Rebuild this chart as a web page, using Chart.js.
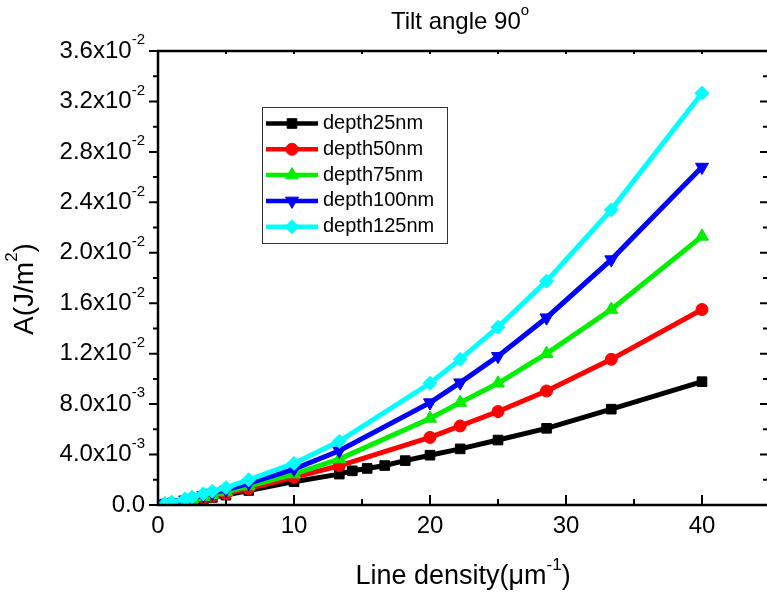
<!DOCTYPE html>
<html>
<head>
<meta charset="utf-8">
<script src="https://cdn.jsdelivr.net/npm/chart.js@4.4.1/dist/chart.umd.min.js"></script>
<style>
  html, body { margin: 0; padding: 0; background: #fff; overflow: hidden; }
  #wrap { width: 767px; height: 596px; overflow: hidden; }
</style>
</head>
<body>
<div id="wrap"><canvas id="myChart" width="772" height="596"></canvas></div>
<script>
// line density values (um^-1)
const xMain = [0.5, 1, 2, 2.5, 3.33, 4, 5, 6.67, 10, 13.33, 20, 22.22, 25, 28.57, 33.33, 40];
const xBlack = [0.5, 1, 2, 2.5, 3.33, 4, 5, 6.67, 10, 13.33, 14.29, 15.38, 16.67, 18.18, 20, 22.22, 25, 28.57, 33.33, 40];

// A (J/m^2)
const depth25 = [0.00006, 0.00013, 0.00027, 0.00035, 0.00048, 0.0006, 0.00078, 0.00115, 0.00185, 0.00245,
  0.00271, 0.0029, 0.00313, 0.00352, 0.00395, 0.00445, 0.00515, 0.00608, 0.0076, 0.00978];
const depth50 = [0.00007, 0.00015, 0.00032, 0.00041, 0.00057, 0.00071, 0.0009, 0.0013, 0.00219, 0.00311,
  0.00536, 0.00627, 0.00741, 0.00904, 0.01155, 0.0155];
const depth75 = [0.00008, 0.00017, 0.00036, 0.00046, 0.00065, 0.00081, 0.00103, 0.0015, 0.00245, 0.00364,
  0.00686, 0.00812, 0.00965, 0.012, 0.0155, 0.0213];
const depth100 = [0.00009, 0.00019, 0.00042, 0.00054, 0.00076, 0.00095, 0.0012, 0.00172, 0.00285, 0.0043,
  0.00812, 0.0097, 0.0118, 0.01485, 0.01946, 0.0268];
const depth125 = [0.0001, 0.00022, 0.00048, 0.00062, 0.00088, 0.0011, 0.00138, 0.002, 0.0033, 0.00505,
  0.00965, 0.01155, 0.0141, 0.01775, 0.0234, 0.03265];

const seriesNames = ['depth25nm', 'depth50nm', 'depth75nm', 'depth100nm', 'depth125nm'];
const xTickLabels = ['0', '10', '20', '30', '40'];
const yTickLabels = ['0.0', '4.0x10{-3}', '8.0x10{-3}', '1.2x10{-2}', '1.6x10{-2}', '2.0x10{-2}',
  '2.4x10{-2}', '2.8x10{-2}', '3.2x10{-2}', '3.6x10{-2}'];
const titleText = 'Tilt angle 90{o}';
const xTitle = 'Line density(\u03bcm{-1})';
const yTitle = 'A(J/m{2})';

const FONT = '"Liberation Sans", Arial, sans-serif';

// text with {superscript} parts
const richParts = (text) => {
  var parts = [];
  text.split(/(\{[^}]*\})/).forEach((p) => {
    if (!p) return;
    if (p[0] === '{') parts.push({ t: p.slice(1, -1), sup: true });
    else parts.push({ t: p, sup: false });
  });
  return parts;
};

const drawRich = (ctx, text, x, y, size, align) => {
  var parts = richParts(text);
  var supSize = Math.round(size * 0.62);
  var total = 0;
  parts.forEach((p) => {
    ctx.font = (p.sup ? supSize : size) + 'px ' + FONT;
    p.w = ctx.measureText(p.t).width;
    total += p.w;
  });
  var cx = align === 'right' ? x - total : align === 'center' ? x - total / 2 : x;
  ctx.textAlign = 'left';
  ctx.textBaseline = 'middle';
  parts.forEach((p) => {
    ctx.font = (p.sup ? supSize : size) + 'px ' + FONT;
    ctx.fillText(p.t, cx, p.sup ? y - size * 0.45 : y);
    cx += p.w;
  });
};

const colors = ['#000000', '#ff0000', '#00ee00', '#0000ff', '#00ffff'];
const styles = [
  { pointStyle: 'rect', rotation: 0, radius: 6.8 },
  { pointStyle: 'circle', rotation: 0, radius: 6 },
  { pointStyle: 'triangle', rotation: 0, radius: 7.5 },
  { pointStyle: 'triangle', rotation: 180, radius: 7.5 },
  { pointStyle: 'rectRot', rotation: 0, radius: 7 },
];

const makeSet = (i, xs, ys) => ({
  label: seriesNames[i],
  data: xs.map((v, k) => ({ x: v, y: ys[k] })),
  borderColor: colors[i],
  backgroundColor: colors[i],
  borderWidth: 5,
  pointStyle: styles[i].pointStyle,
  pointRotation: styles[i].rotation,
  pointRadius: styles[i].radius,
  pointBorderWidth: 1,
  pointBorderColor: colors[i],
  pointBackgroundColor: colors[i],
  tension: 0,
  order: 5 - i,
});

// frame, ticks, labels and legend
const framePlugin = {
  id: 'frame',
  afterDraw(chart) {
    const ctx = chart.ctx;
    const a = chart.chartArea;
    const xs = chart.scales.x;
    const ys = chart.scales.y;
    ctx.save();
    ctx.fillStyle = '#000';
    ctx.strokeStyle = '#000';
    ctx.lineWidth = 2.5;
    ctx.lineCap = 'butt';
    ctx.strokeRect(a.left, a.top, a.right - a.left, a.bottom - a.top);

    // x ticks: bottom inward, top small
    for (var i = 0; i <= 9; i++) {
      var v = i * 5;
      var px = xs.getPixelForValue(v);
      var major = i % 2 === 0;
      ctx.lineWidth = 2;
      ctx.beginPath();
      ctx.moveTo(px, a.bottom);
      ctx.lineTo(px, a.bottom - (major ? 10 : 6));
      ctx.moveTo(px, a.top);
      ctx.lineTo(px, a.top + 3);
      ctx.stroke();
      if (major) drawRich(ctx, xTickLabels[i / 2], px, a.bottom + 21, 24, 'center');
    }

    // y ticks: left outward, right inward
    for (var j = 0; j <= 18; j++) {
      var py = ys.getPixelForValue(j * 0.002);
      var maj = j % 2 === 0;
      ctx.lineWidth = 2;
      ctx.beginPath();
      ctx.moveTo(a.left, py);
      ctx.lineTo(a.left - (maj ? 9 : 5), py);
      ctx.moveTo(a.right, py);
      ctx.lineTo(a.right - (maj ? 10 : 7), py);
      ctx.stroke();
      if (maj) drawRich(ctx, yTickLabels[j / 2], a.left - 13, py, 24, 'right');
    }

    // titles
    drawRich(ctx, titleText, 460, 22, 24, 'center');
    drawRich(ctx, xTitle, 463, 577, 27, 'center');
    ctx.save();
    ctx.translate(25, 289);
    ctx.rotate(-Math.PI / 2);
    drawRich(ctx, yTitle, 0, 0, 28, 'center');
    ctx.restore();

    // legend
    ctx.fillStyle = '#fff';
    ctx.fillRect(262, 107, 185, 136);
    ctx.strokeStyle = '#333';
    ctx.lineWidth = 1;
    ctx.strokeRect(262.5, 107.5, 185, 136);
    chart.data.datasets.forEach((ds, k) => {
      var ly = 123.5 + k * 25.8;
      ctx.strokeStyle = ds.borderColor;
      ctx.lineWidth = 4.5;
      ctx.beginPath();
      ctx.moveTo(266, ly);
      ctx.lineTo(318, ly);
      ctx.stroke();
      ctx.fillStyle = ds.backgroundColor;
      ctx.strokeStyle = ds.borderColor;
      ctx.lineWidth = 1;
      Chart.helpers.drawPoint(ctx, {
        pointStyle: ds.pointStyle,
        rotation: ds.pointRotation,
        radius: ds.pointRadius,
        borderWidth: 1,
      }, 292, ly);
      ctx.fillStyle = '#000';
      drawRich(ctx, ds.label, 323, ly, 20, 'left');
    });
    ctx.restore();
  },
};

const ctx = document.getElementById('myChart').getContext('2d');
window.myChart = new Chart(ctx, {
  type: 'line',
  data: {
    datasets: [
      makeSet(0, xBlack, depth25),
      makeSet(1, xMain, depth50),
      makeSet(2, xMain, depth75),
      makeSet(3, xMain, depth100),
      makeSet(4, xMain, depth125),
    ],
  },
  options: {
    responsive: false,
    animation: false,
    layout: { autoPadding: false, padding: { left: 158, top: 51, right: 2, bottom: 91 } },
    scales: {
      x: { type: 'linear', display: false, min: 0, max: 45 },
      y: { type: 'linear', display: false, min: 0, max: 0.036 },
    },
    plugins: {
      legend: { display: false },
      tooltip: { enabled: false },
    },
  },
  plugins: [framePlugin],
});
</script>
</body>
</html>
